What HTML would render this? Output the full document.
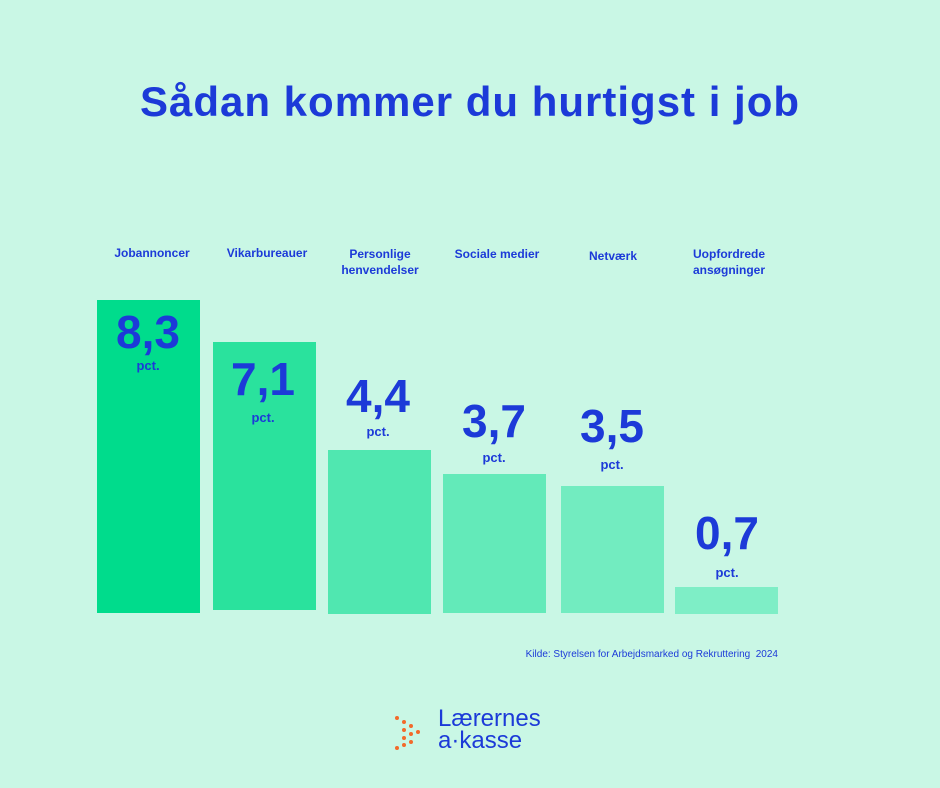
<!DOCTYPE html><html><head><meta charset="utf-8"><style>
body{margin:0;width:940px;height:788px;background:#c9f7e5;position:relative;overflow:hidden;font-family:"Liberation Sans","DejaVu Sans",sans-serif;color:#1c3ad8}
.a{position:absolute}
.t{left:0;width:940px;top:78px;text-align:center;font-size:42px;font-weight:bold;letter-spacing:1px}
.l{font-size:12px;font-weight:bold;text-align:center;width:130px;line-height:16px}
.b{position:absolute;width:103px}
.n{font-size:46px;font-weight:900;text-align:center;width:130px;letter-spacing:0px}
.p{font-size:13px;font-weight:bold;text-align:center;width:130px}
</style></head><body>
<div class="a t">Sådan kommer du hurtigst i job</div>
<div class="a l" style="left:87px;top:245px">Jobannoncer</div>
<div class="a l" style="left:202px;top:245px">Vikarbureauer</div>
<div class="a l" style="left:315px;top:246px">Personlige<br>henvendelser</div>
<div class="a l" style="left:432px;top:246px">Sociale medier</div>
<div class="a l" style="left:548px;top:248px">Netværk</div>
<div class="a l" style="left:664px;top:246px">Uopfordrede<br>ansøgninger</div>
<div class="b" style="left:97px;top:300px;height:313px;background:#00dc8c"></div>
<div class="b" style="left:213px;top:342px;height:268px;background:#2ae29d"></div>
<div class="b" style="left:328px;top:450px;height:164px;background:#50e7b0"></div>
<div class="b" style="left:443px;top:474px;height:139px;background:#63eab9"></div>
<div class="b" style="left:561px;top:486px;height:127px;background:#72ecc0"></div>
<div class="b" style="left:675px;top:587px;height:27px;background:#7eeec6"></div>
<div class="a n" style="left:83px;top:305px">8,3</div><div class="a p" style="left:83px;top:358px">pct.</div>
<div class="a n" style="left:198px;top:352px">7,1</div><div class="a p" style="left:198px;top:410px">pct.</div>
<div class="a n" style="left:313px;top:369px">4,4</div><div class="a p" style="left:313px;top:424px">pct.</div>
<div class="a n" style="left:429px;top:394px">3,7</div><div class="a p" style="left:429px;top:450px">pct.</div>
<div class="a n" style="left:547px;top:399px">3,5</div><div class="a p" style="left:547px;top:457px">pct.</div>
<div class="a n" style="left:662px;top:506px">0,7</div><div class="a p" style="left:662px;top:565px">pct.</div>
<div class="a" style="right:162px;top:649px;font-size:10px">Kilde: Styrelsen for Arbejdsmarked og Rekruttering&nbsp; 2024</div>
<svg class="a" style="left:394px;top:714px" width="36" height="40" fill="#f26a2a">
<circle cx="3" cy="4" r="2"/><circle cx="10" cy="8" r="2"/><circle cx="17" cy="12" r="2"/><circle cx="24" cy="18" r="2"/>
<circle cx="10" cy="16" r="2"/><circle cx="17" cy="20" r="2"/><circle cx="10" cy="24" r="2"/><circle cx="17" cy="28" r="2"/><circle cx="3" cy="34" r="2"/><circle cx="10" cy="31" r="2"/></svg>
<div class="a" style="left:438px;top:708px;font-size:24px;line-height:22px;color:#1c3ad8">Lærernes<br>a·kasse</div>
</body></html>
